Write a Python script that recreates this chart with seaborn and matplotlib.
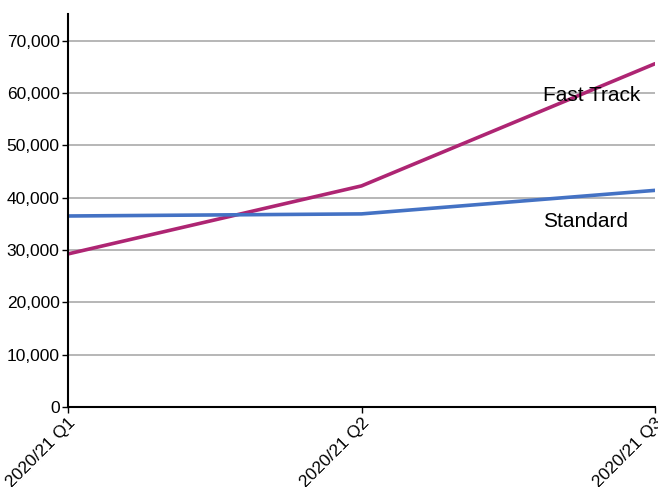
import matplotlib.pyplot as plt
import pandas as pd
import seaborn as sns
from matplotlib.ticker import FuncFormatter

quarters = ["2020/21 Q1", "2020/21 Q2", "2020/21 Q3"]
fast_track = [29250, 42250, 65600]
standard = [36500, 36900, 41400]
series_names = ["Fast Track", "Standard"]

df = pd.DataFrame({
    "quarter": quarters * 2,
    "value": fast_track + standard,
    "series": [series_names[0]] * 3 + [series_names[1]] * 3,
})
df["pos"] = df["quarter"].map({q: i for i, q in enumerate(quarters)})

sns.set_style("white")
plt.rcParams["font.family"] = ["Liberation Sans", "DejaVu Sans"]
plt.rcParams["text.color"] = "black"
plt.rcParams["xtick.color"] = "black"
plt.rcParams["ytick.color"] = "black"

fig = plt.figure(figsize=(6.58, 4.87), dpi=100)
ax = fig.add_axes([68 / 658, 1 - 407 / 487, 587 / 658, 393 / 487])

sns.lineplot(
    data=df, x="pos", y="value", hue="series",
    palette={"Fast Track": "#AE2573", "Standard": "#4472C4"},
    linewidth=2.6, legend=False, ax=ax, zorder=3,
)

ax.set_xlim(0, 2)
ax.set_ylim(0, 75100)
ax.set_yticks(range(0, 70001, 10000))
ax.yaxis.set_major_formatter(FuncFormatter(lambda v, _: f"{int(v):,}"))
ax.set_xticks(range(len(quarters)))
ax.set_xticklabels(quarters, rotation=45, ha="right", rotation_mode="anchor")
ax.set_xlabel("")
ax.set_ylabel("")

ax.grid(axis="y", color="#AAAAAA", linewidth=1.2, zorder=0)
for side in ["top", "right"]:
    ax.spines[side].set_visible(False)
for side in ["left", "bottom"]:
    ax.spines[side].set_color("black")
    ax.spines[side].set_linewidth(1.5)
    ax.spines[side].set_zorder(4)
ax.tick_params(axis="both", length=4, width=1, colors="black", labelsize=12.5,
               pad=2, bottom=True, left=True)

ax.text(1.618, 59460, "Fast Track", fontsize=15, va="center", ha="left",
        color="black", zorder=5)
ax.text(1.618, 35370, "Standard", fontsize=15, va="center", ha="left",
        color="black", zorder=5)

fig.savefig("out.png", dpi=100)
